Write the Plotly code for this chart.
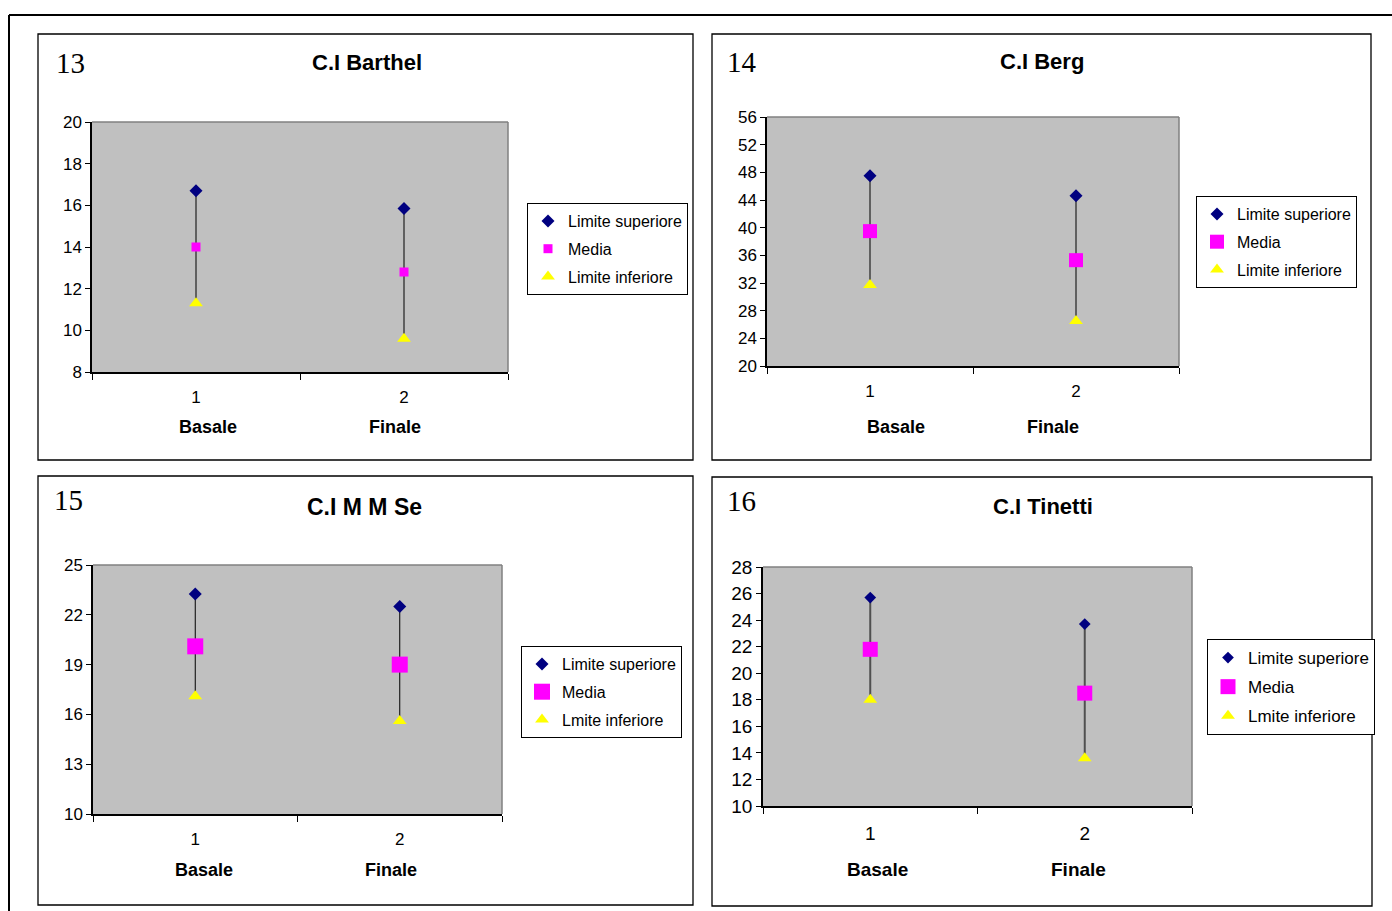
import plotly.graph_objects as go

W, H = 1392, 911

# ---------------- data ----------------
categories = [1, 2]
phase_labels = ["Basale", "Finale"]

barthel_upper = [16.7, 15.85]
barthel_mean = [14.0, 12.8]
barthel_lower = [11.3, 9.6]

berg_upper = [47.5, 44.6]
berg_mean = [39.5, 35.3]
berg_lower = [31.7, 26.5]

mmse_upper = [23.25, 22.5]
mmse_mean = [20.1, 19.0]
mmse_lower = [17.1, 15.6]

tinetti_upper = [25.7, 23.7]
tinetti_mean = [21.8, 18.5]
tinetti_lower = [18.0, 13.6]

titles = ["C.I Barthel", "C.I Berg", "C.I M M Se", "C.I Tinetti"]
numbers = ["13", "14", "15", "16"]
legend_names = [
    ["Limite superiore", "Media", "Limite inferiore"],
    ["Limite superiore", "Media", "Limite inferiore"],
    ["Limite superiore", "Media", "Lmite inferiore"],
    ["Limite superiore", "Media", "Lmite inferiore"],
]
y_ranges = [(8, 20, 2), (20, 56, 4), (10, 25, 3), (10, 28, 2)]


def px(x):
    return x / W


def py(y):
    return 1 - y / H


panels = [
    dict(up=barthel_upper, me=barthel_mean, lo=barthel_lower,
         plot=(92, 122, 508, 372), box=(38, 34, 693, 460),
         leg=(527, 203), num=(54, 63), title=(367, 63),
         lab_y=427, lab_shift=(12, -9), legfont=16, titlefont=22, labfont=18,
         msq=9, mdi=10, mtr=12, lw=1, lc="black", tick_font=17),
    dict(up=berg_upper, me=berg_mean, lo=berg_lower,
         plot=(767, 117, 1179, 366), box=(712, 34, 1371, 460),
         leg=(1196, 196), num=(725, 62), title=(1042, 61),
         lab_y=427, lab_shift=(26, -23), legfont=16, titlefont=22, labfont=18,
         msq=14, mdi=10, mtr=12, lw=1, lc="black", tick_font=17),
    dict(up=mmse_upper, me=mmse_mean, lo=mmse_lower,
         plot=(93, 565, 502, 814), box=(38, 476, 693, 905),
         leg=(521, 646), num=(52, 500), title=(364, 507),
         lab_y=870, lab_shift=(9, -9), legfont=16, titlefont=23, labfont=18,
         msq=16, mdi=10, mtr=12, lw=1, lc="black", tick_font=17),
    dict(up=tinetti_upper, me=tinetti_mean, lo=tinetti_lower,
         plot=(763, 567, 1192, 806), box=(712, 477, 1372, 906),
         leg=(1207, 639), num=(725, 501), title=(1043, 506),
         lab_y=869, lab_shift=(7, -6), legfont=17, titlefont=22, labfont=19,
         msq=15, mdi=9, mtr=12, lw=2, lc="#505050", tick_font=19),
]

fig = go.Figure()
shapes = []
annotations = []
layout = {}

# outer frame
shapes.append(dict(type="line", xref="paper", yref="paper",
                   x0=px(9), x1=px(9), y0=py(15), y1=py(911),
                   line=dict(color="black", width=2)))
shapes.append(dict(type="line", xref="paper", yref="paper",
                   x0=px(9), x1=px(1392), y0=py(15), y1=py(15),
                   line=dict(color="black", width=2)))

for i, p in enumerate(panels):
    k = i + 1
    xa = "x" if k == 1 else f"x{k}"
    ya = "y" if k == 1 else f"y{k}"
    xkey = "xaxis" if k == 1 else f"xaxis{k}"
    ykey = "yaxis" if k == 1 else f"yaxis{k}"
    lkey = "legend" if k == 1 else f"legend{k}"
    x0, y0, x1, y1 = p["plot"]
    ymin, ymax, dy = y_ranges[i]

    layout[xkey] = dict(
        domain=[px(x0), px(x1)], anchor=ya, range=[0.5, 2.5], automargin=False,
        tickmode="array", tickvals=categories, ticktext=[str(c) for c in categories],
        ticks="", showline=True, linecolor="black", linewidth=1.5,
        showgrid=False, zeroline=False, ticklabelstandoff=9,
        tickfont=dict(family="Arial", size=p["tick_font"], color="black"),
        minor=dict(tick0=0.5, dtick=1, ticks="outside", ticklen=6,
                   tickcolor="black", tickwidth=1, showgrid=False),
    )
    layout[ykey] = dict(
        domain=[py(y1), py(y0)], anchor=xa, range=[ymin, ymax], automargin=False,
        tickmode="linear", tick0=ymin, dtick=dy,
        ticks="outside", ticklen=5, tickcolor="black",
        showline=True, linecolor="black", linewidth=1.5,
        showgrid=False, zeroline=False,
        tickfont=dict(family="Arial", size=p["tick_font"], color="black"),
    )

    # connector lines
    lx, ly = [], []
    for c, u, l in zip(categories, p["up"], p["lo"]):
        lx += [c, c, None]
        ly += [u, l, None]
    fig.add_trace(go.Scatter(x=lx, y=ly, mode="lines", xaxis=xa, yaxis=ya,
                             line=dict(color=p["lc"], width=p["lw"]),
                             showlegend=False, hoverinfo="skip"))

    names = legend_names[i]
    fig.add_trace(go.Scatter(x=categories, y=p["up"], mode="markers", name=names[0],
                             xaxis=xa, yaxis=ya, legend=lkey, legendgroup=f"a{k}",
                             marker=dict(symbol="diamond", color="#000080", size=p["mdi"])))
    fig.add_trace(go.Scatter(x=categories, y=p["me"], mode="markers", name=names[1],
                             xaxis=xa, yaxis=ya, legend=lkey, legendgroup=f"b{k}",
                             marker=dict(symbol="square", color="#FF00FF", size=p["msq"])))
    fig.add_trace(go.Scatter(x=categories, y=p["lo"], mode="markers", name=names[2],
                             xaxis=xa, yaxis=ya, legend=lkey, legendgroup=f"c{k}",
                             marker=dict(symbol="triangle-up", color="#FFFF00", size=p["mtr"])))

    lxp, lyp = p["leg"]
    layout[lkey] = dict(
        x=px(lxp), y=py(lyp), xanchor="left", yanchor="top",
        bgcolor="white", bordercolor="black", borderwidth=1,
        font=dict(family="Arial", size=p["legfont"], color="black"),
        traceorder="grouped", tracegroupgap=4, itemsizing="trace", itemwidth=30,
    )

    # top/right plot border (grey)
    shapes.append(dict(type="line", xref="paper", yref="paper",
                       x0=px(x0), x1=px(x1), y0=py(y0), y1=py(y0),
                       line=dict(color="#808080", width=1.5)))
    shapes.append(dict(type="line", xref="paper", yref="paper",
                       x0=px(x1), x1=px(x1), y0=py(y0), y1=py(y1),
                       line=dict(color="#808080", width=1.5)))
    shapes.append(dict(type="rect", xref=f"{xa} domain", yref=f"{ya} domain",
                       x0=0, x1=1, y0=0, y1=1, layer="below",
                       fillcolor="#C0C0C0", line=dict(width=0)))

    # panel box
    bx0, by0, bx1, by1 = p["box"]
    shapes.append(dict(type="rect", xref="paper", yref="paper",
                       x0=px(bx0), x1=px(bx1), y0=py(by1), y1=py(by0),
                       line=dict(color="black", width=1.3)))

    # number and title
    nx, ny = p["num"]
    annotations.append(dict(text=numbers[i], xref="paper", yref="paper",
                            x=px(nx), y=py(ny), xanchor="left", yanchor="middle",
                            showarrow=False,
                            font=dict(family="Liberation Serif", size=29, color="black")))
    tx, ty = p["title"]
    annotations.append(dict(text=f"<b>{titles[i]}</b>", xref="paper", yref="paper",
                            x=px(tx), y=py(ty), xanchor="center", yanchor="middle",
                            showarrow=False,
                            font=dict(family="Arial", size=p["titlefont"], color="black")))

    # phase labels
    for c, lab, sh in zip(categories, phase_labels, p["lab_shift"]):
        annotations.append(dict(text=f"<b>{lab}</b>", xref=xa, yref="paper",
                                x=c, xshift=sh, y=py(p["lab_y"]),
                                xanchor="center", yanchor="middle", showarrow=False,
                                font=dict(family="Arial", size=p["labfont"], color="black")))

fig.update_layout(
    width=W, height=H, margin=dict(l=0, r=0, t=0, b=0, autoexpand=False),
    paper_bgcolor="white", plot_bgcolor="rgba(0,0,0,0)",
    shapes=shapes, annotations=annotations, **layout,
)

fig.write_html("out.html")
